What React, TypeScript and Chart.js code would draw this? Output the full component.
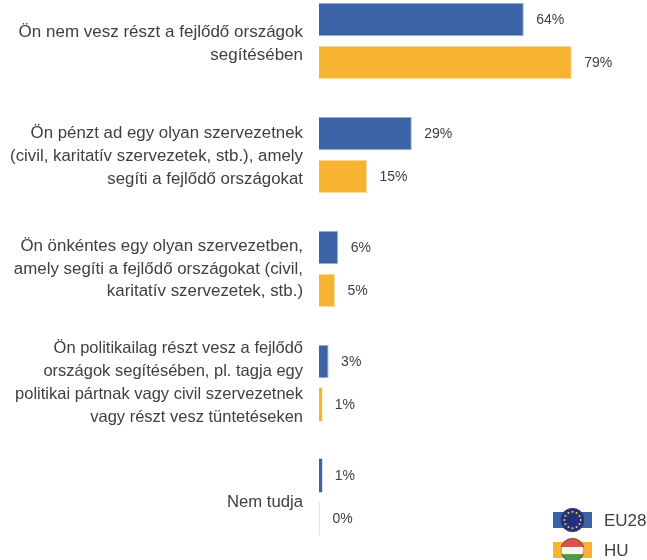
import React, { useEffect, useRef } from "react";
import { Chart, registerables } from "chart.js";

Chart.register(...registerables);

const categories: string[][] = [
  ["Ön nem vesz részt a fejlődő országok", "segítésében"],
  ["Ön pénzt ad egy olyan szervezetnek", "(civil, karitatív szervezetek, stb.), amely", "segíti a fejlődő országokat"],
  ["Ön önkéntes egy olyan szervezetben,", "amely segíti a fejlődő országokat (civil,", "karitatív szervezetek, stb.)"],
  ["Ön politikailag részt vesz a fejlődő", "országok segítésében, pl. tagja egy", "politikai pártnak vagy civil szervezetnek", "vagy részt vesz tüntetéseken"],
  ["Nem tudja"],
];
const eu28Values = [64, 29, 6, 3, 1];
const huValues = [79, 15, 5, 1, 0];
const labelSizes = [17, 16.85, 16.9, 16.5, 16.7];
const labelShifts = [3, 1.5, 0, 0, 5];

const BLUE = "#3B63A6";
const BLUE_EDGE = "#A3B6D6";
const ORANGE = "#F8B330";
const ORANGE_EDGE = "#FBDB9C";
const ORANGE_FAINT = "#FBE2B0";
const TEXT = "#404040";
const FONT = "'Liberation Sans', Arial, sans-serif";

const shiftLabels = {
  id: "shiftLabels",
  beforeDraw(chart: any) {
    const y = chart.scales.y;
    y.getLabelItems(chart.chartArea).forEach((item: any, i: number) => {
      item.textOffset += labelShifts[i];
    });
  },
};

const valueLabels = {
  id: "valueLabels",
  afterDatasetsDraw(chart: any) {
    const { ctx } = chart;
    ctx.save();
    ctx.font = `14px ${FONT}`;
    ctx.fillStyle = TEXT;
    ctx.textAlign = "left";
    ctx.textBaseline = "middle";
    chart.data.datasets.forEach((ds: any, i: number) => {
      chart.getDatasetMeta(i).data.forEach((bar: any, j: number) => {
        ctx.fillText(`${ds.data[j]}%`, bar.x + 12.5, bar.y + 1);
      });
    });
    ctx.restore();
  },
};

function drawFlag(ctx: CanvasRenderingContext2D, label: string, color: string, x: number, y: number) {
  ctx.fillStyle = color;
  ctx.fillRect(x, y - 8, 39, 16);
  const cx = x + 19.5;
  const r = 12;
  ctx.save();
  ctx.beginPath();
  ctx.arc(cx, y, r, 0, Math.PI * 2);
  ctx.clip();
  if (label === "HU") {
    ctx.fillStyle = "#D9534A";
    ctx.fillRect(cx - r, y - r, r * 2, r * 0.75);
    ctx.fillStyle = "#F6F6F0";
    ctx.fillRect(cx - r, y - r * 0.25, r * 2, r * 0.6);
    ctx.fillStyle = "#4E9A4A";
    ctx.fillRect(cx - r, y + r * 0.35, r * 2, r);
  } else {
    ctx.fillStyle = "#23307F";
    ctx.fillRect(cx - r, y - r, r * 2, r * 2);
    ctx.fillStyle = "#E8D44A";
    for (let k = 0; k < 12; k++) {
      const a = (k / 12) * Math.PI * 2;
      ctx.beginPath();
      ctx.arc(cx + Math.cos(a) * r * 0.68, y + Math.sin(a) * r * 0.68, 1, 0, Math.PI * 2);
      ctx.fill();
    }
  }
  ctx.restore();
  ctx.strokeStyle = "rgba(70,70,70,0.55)";
  ctx.lineWidth = 1;
  ctx.beginPath();
  ctx.arc(cx, y, r - 0.5, 0, Math.PI * 2);
  ctx.stroke();
  ctx.fillStyle = TEXT;
  ctx.font = `17px ${FONT}`;
  ctx.textAlign = "left";
  ctx.textBaseline = "middle";
  ctx.fillText(label, x + 51, y + 1);
}

const flagLegend = {
  id: "flagLegend",
  afterDraw(chart: any) {
    const { ctx } = chart;
    ctx.save();
    const rows = [536, 566];
    chart.data.datasets.forEach((ds: any, i: number) => {
      drawFlag(ctx, ds.label, i === 0 ? BLUE : ORANGE, 553, rows[i]);
    });
    ctx.restore();
  },
};

export default function App() {
  const ref = useRef<HTMLCanvasElement>(null);
  useEffect(() => {
    const chart = new Chart(ref.current!, {
      type: "bar",
      data: {
        labels: categories,
        datasets: [
          { label: "EU28", data: eu28Values, backgroundColor: BLUE, borderColor: BLUE_EDGE, borderWidth: eu28Values.map((v) => (v < 3 ? 0 : 1)) },
          {
            label: "HU",
            data: huValues,
            backgroundColor: huValues.map((v) => (v === 0 ? ORANGE_FAINT : ORANGE)),
            borderColor: ORANGE_EDGE,
            borderWidth: huValues.map((v) => (v < 3 ? 0 : 1)),
            minBarLength: 1,
          },
        ],
      },
      options: {
        indexAxis: "y",
        responsive: false,
        animation: false,
        maintainAspectRatio: false,
        layout: { padding: { left: 0, right: 0, top: 0, bottom: 6 } },
        categoryPercentage: 0.754,
        barPercentage: 0.78,
        scales: {
          x: { display: false, min: 0, max: 102.5 },
          y: {
            grid: { display: false, drawTicks: false },
            border: { display: false },
            afterFit: (s: any) => { s.width = 319; s.paddingTop = 0; s.paddingBottom = 0; },
            ticks: {
              autoSkip: false,
              padding: 16,
              color: TEXT,
              font: (c: any) => ({ family: FONT, size: labelSizes[c.index], lineHeight: c.index === 3 ? 1.39 : 1.35 }),
            },
          },
        },
        plugins: { legend: { display: false }, tooltip: { enabled: false } },
      } as any,
      plugins: [shiftLabels, valueLabels, flagLegend],
    });
    return () => chart.destroy();
  }, []);
  return (
    <div style={{ position: "fixed", left: 0, top: 0, width: 647, height: 560, overflow: "hidden", background: "#fff" }}>
      <canvas ref={ref} width={647} height={576} style={{ position: "absolute", left: 0, top: -16, display: "block" }} />
    </div>
  );
}
